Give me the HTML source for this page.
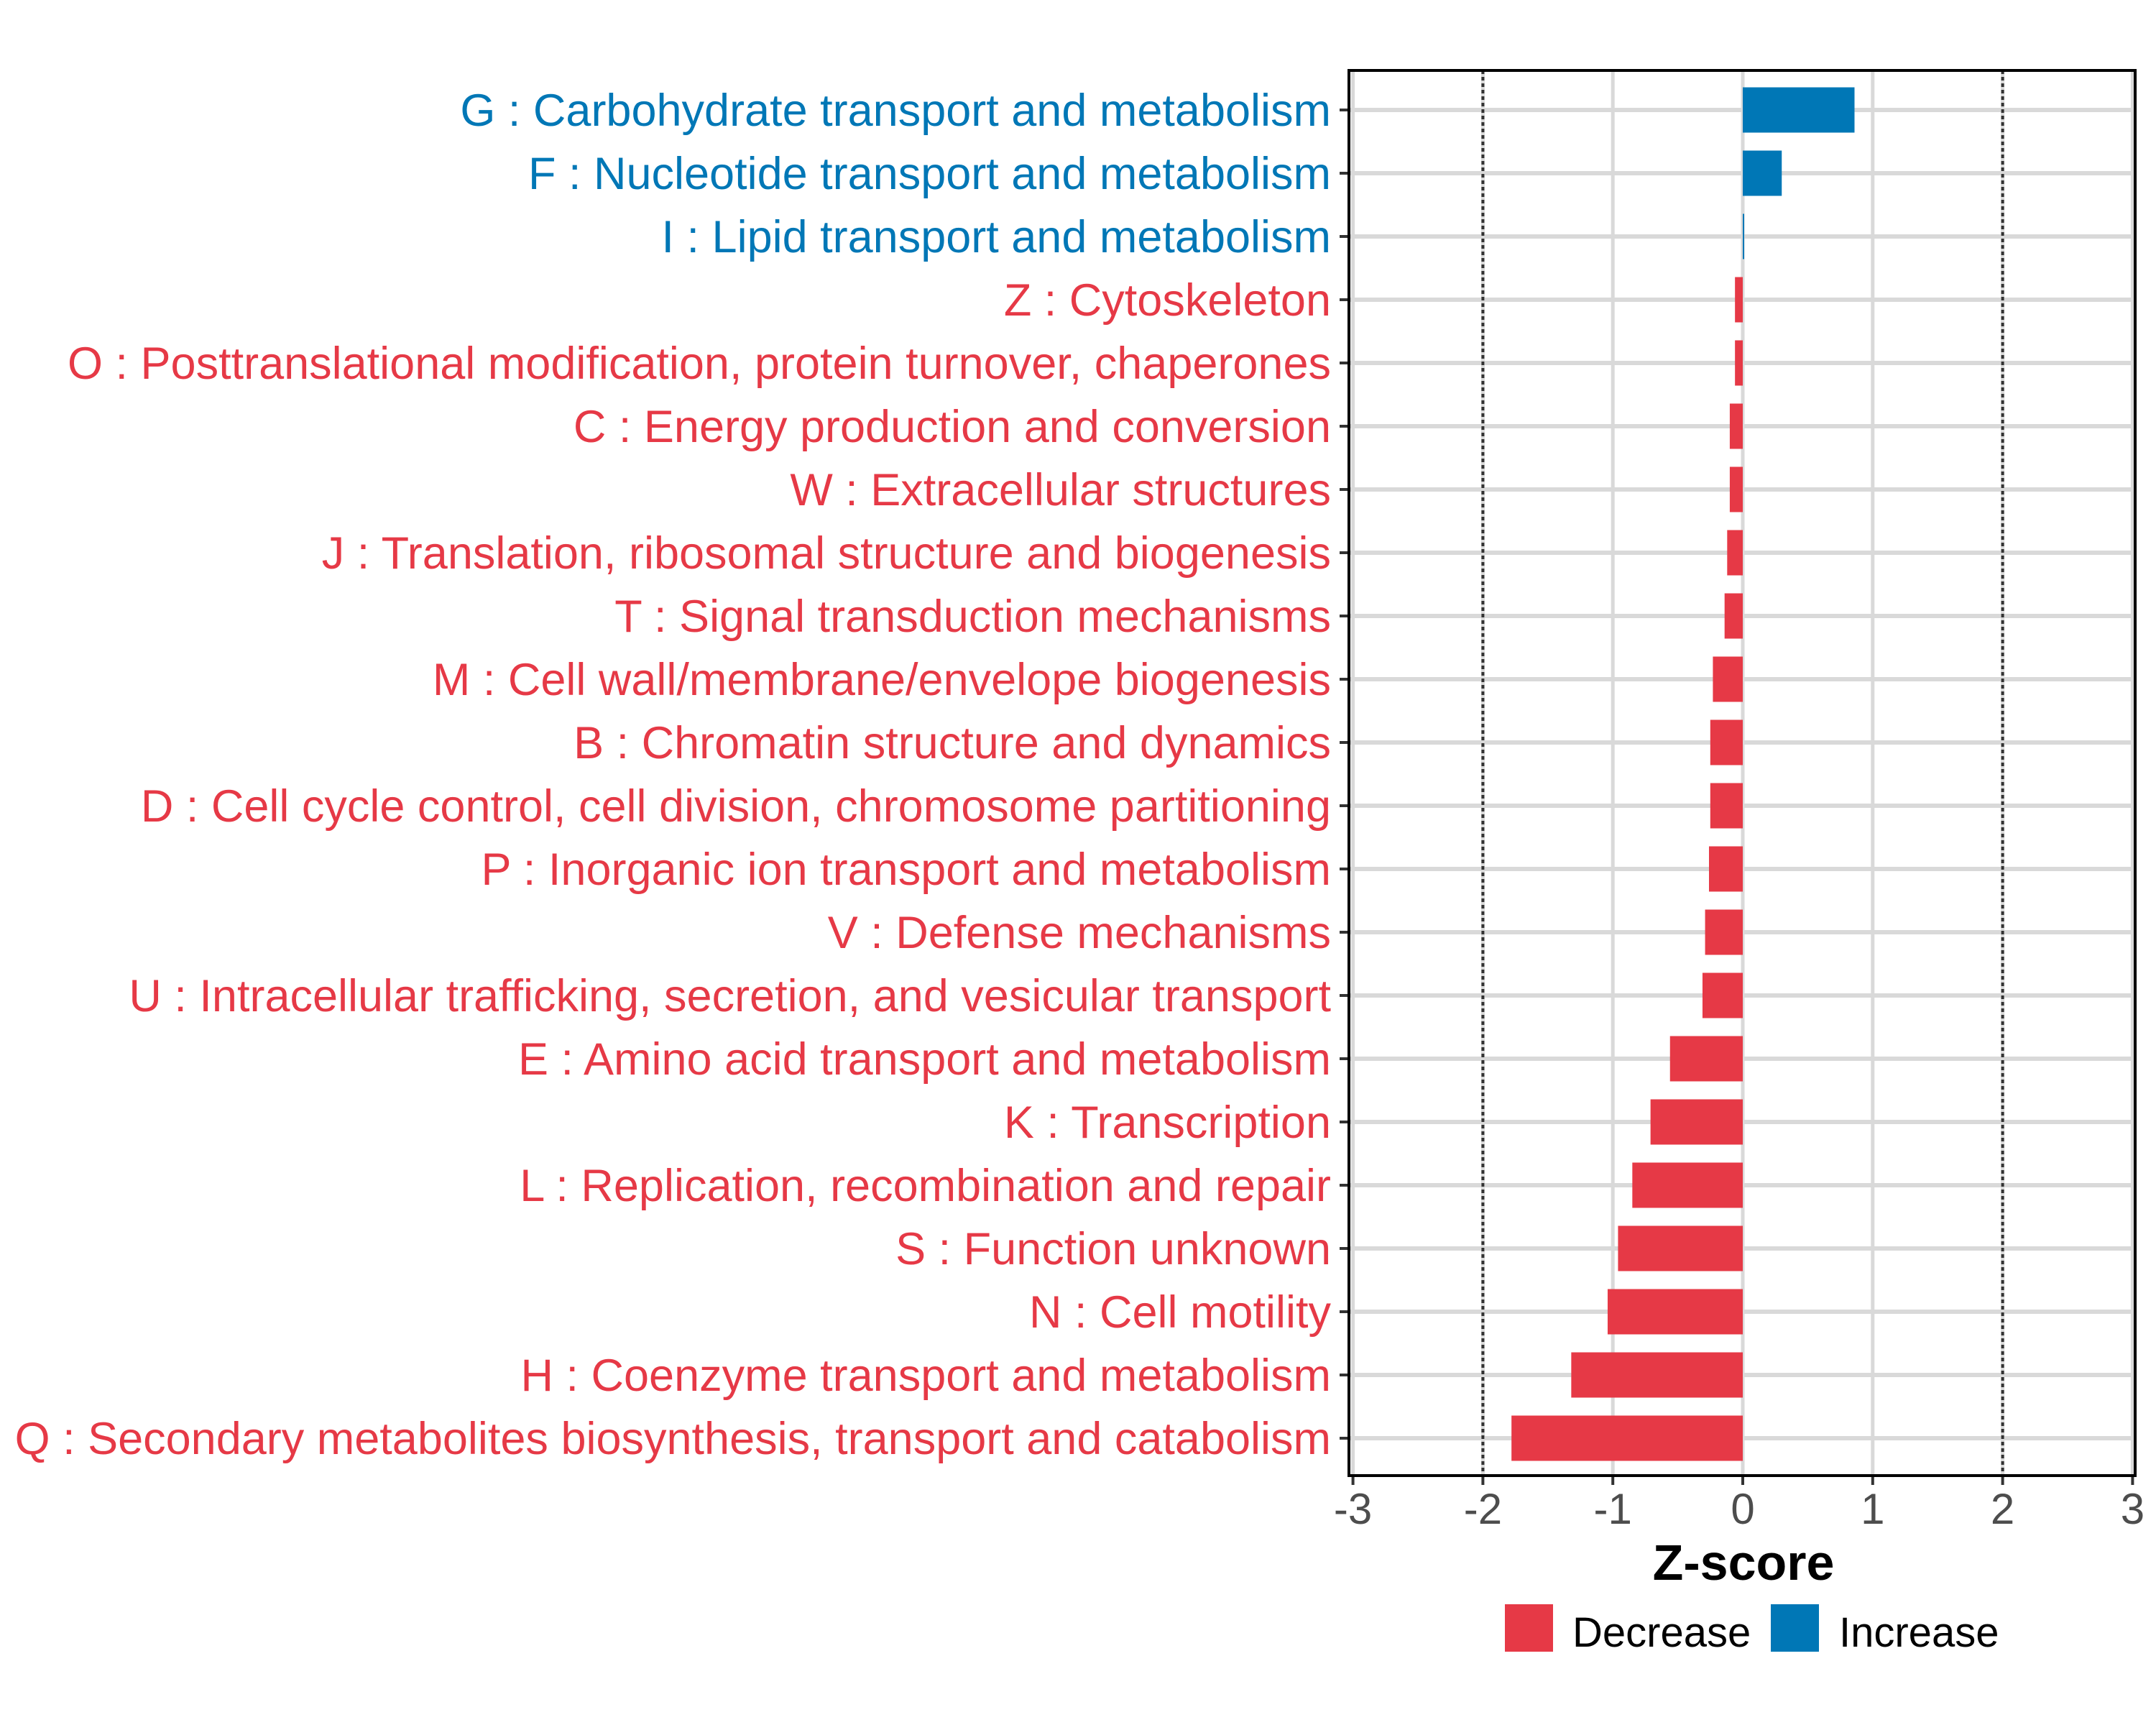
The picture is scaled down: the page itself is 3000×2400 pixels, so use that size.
<!DOCTYPE html>
<html><head><meta charset="utf-8"><style>
html,body{margin:0;padding:0;background:#fff;}
svg{display:block;font-family:"Liberation Sans",Arial,sans-serif;}
</style></head><body>
<svg id="chart" width="3000" height="2400" viewBox="0 0 3000 2400">
<rect x="0" y="0" width="3000" height="2400" fill="#fff"/>
<g id="grid"></g><g id="bars"></g><g id="labels"></g><g id="axis"></g>
<rect x="1877" y="98" width="1094" height="1955" fill="none" stroke="#000" stroke-width="4"/>
<text x="2426" y="2198" font-size="70" font-weight="bold" text-anchor="middle" fill="#000">Z-score</text>
<g>
<rect x="2094" y="2232" width="67" height="66" fill="#E63946"/>
<text x="2188" y="2291" font-size="58" fill="#000">Decrease</text>
<rect x="2464" y="2232" width="67" height="66" fill="#0077B6"/>
<text x="2559" y="2291" font-size="58" fill="#000">Increase</text>
</g>
</svg>
<script>
const categories = ["G : Carbohydrate transport and metabolism","F : Nucleotide transport and metabolism","I : Lipid transport and metabolism","Z : Cytoskeleton","O : Posttranslational modification, protein turnover, chaperones","C : Energy production and conversion","W : Extracellular structures","J : Translation, ribosomal structure and biogenesis","T : Signal transduction mechanisms","M : Cell wall/membrane/envelope biogenesis","B : Chromatin structure and dynamics","D : Cell cycle control, cell division, chromosome partitioning","P : Inorganic ion transport and metabolism","V : Defense mechanisms","U : Intracellular trafficking, secretion, and vesicular transport","E : Amino acid transport and metabolism","K : Transcription","L : Replication, recombination and repair","S : Function unknown","N : Cell motility","H : Coenzyme transport and metabolism","Q : Secondary metabolites biosynthesis, transport and catabolism"];
const zscores = [0.86,0.30,0.01,-0.06,-0.06,-0.10,-0.10,-0.12,-0.14,-0.23,-0.25,-0.25,-0.26,-0.29,-0.31,-0.56,-0.71,-0.85,-0.96,-1.04,-1.32,-1.78];
const xTicks = [-3,-2,-1,0,1,2,3];
const xTickLabels = ["-3","-2","-1","0","1","2","3"];
const refLines = [-2,2];

const NS="http://www.w3.org/2000/svg";
const X0=2425, UNIT=180.8, Y0=153, STEP=88, BH=63;
const RED="#E63946", BLUE="#0077B6";
function xs(v){return X0+v*UNIT;}
function ys(i){return Y0+i*STEP;}
function mk(tag,attrs,parent){const e=document.createElementNS(NS,tag);for(const k in attrs)e.setAttribute(k,attrs[k]);parent.appendChild(e);return e;}
const grid=document.getElementById('grid'),bars=document.getElementById('bars'),labels=document.getElementById('labels'),axis=document.getElementById('axis');
xTicks.forEach((t,i)=>{
  const l=mk('line',{x1:xs(t),x2:xs(t),y1:98,y2:2053,stroke:'#d9d9d9','stroke-width':5},grid);
  
  
  const tk=mk('line',{x1:xs(t),x2:xs(t),y1:2053,y2:2066,stroke:'#333','stroke-width':4},axis);
  
  
  const tl=mk('text',{x:xs(t),y:2120,'font-size':60,'text-anchor':'middle',fill:'#4d4d4d'},axis);
  tl.textContent=xTickLabels[i];
  
  
});
categories.forEach((c,i)=>{
  const l=mk('line',{x1:1877,x2:2971,y1:ys(i),y2:ys(i),stroke:'#d9d9d9','stroke-width':6},grid);
  
  
});
refLines.forEach(r=>{
  const l=mk('line',{x1:xs(r),x2:xs(r),y1:98,y2:2053,stroke:'#333','stroke-width':4,'stroke-dasharray':'5,4'},grid);
  
  
});
categories.forEach((c,i)=>{
  const v=zscores[i], col=v>=0?BLUE:RED;
  const x=Math.min(xs(0),xs(v)), w=Math.max(Math.abs(xs(v)-xs(0)),2);
  const b=mk('rect',{x:x,y:ys(i)-BH/2,width:w,height:BH,fill:col},bars);
  
  
  const tk=mk('line',{x1:1864,x2:1877,y1:ys(i),y2:ys(i),stroke:'#333','stroke-width':4},axis);
  
  
  const t=mk('text',{x:1852,y:ys(i)+22,'font-size':63,'text-anchor':'end',fill:col},labels);
  t.textContent=c;
  
  
});
</script>
</body></html>
